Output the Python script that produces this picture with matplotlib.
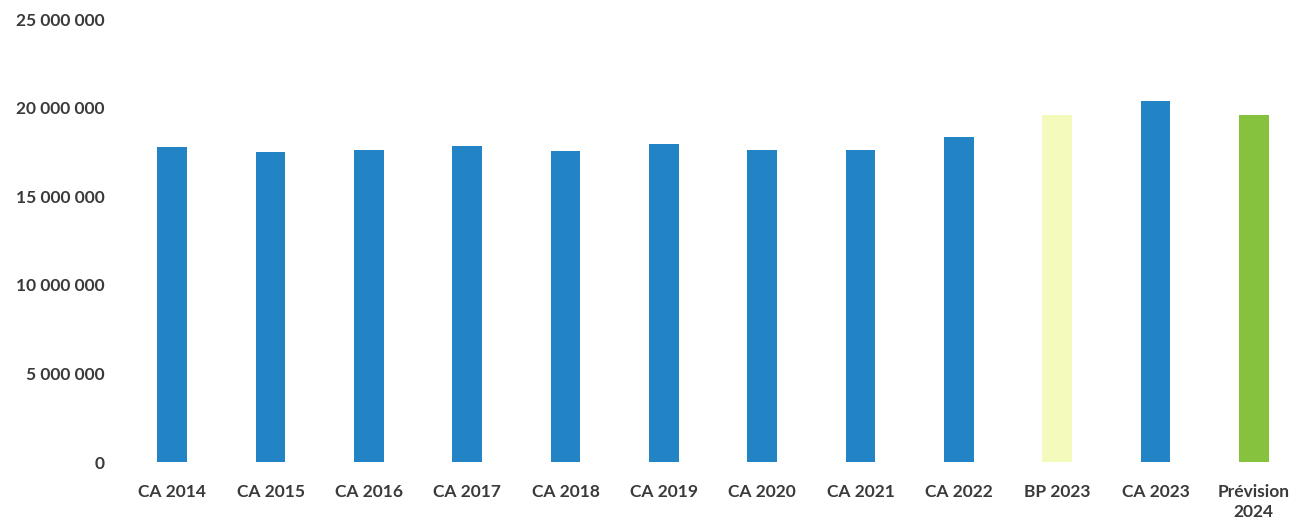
import matplotlib
matplotlib.use("Agg")
import matplotlib.pyplot as plt
from matplotlib.ticker import FuncFormatter

categories = ["CA 2014", "CA 2015", "CA 2016", "CA 2017", "CA 2018", "CA 2019",
              "CA 2020", "CA 2021", "CA 2022", "BP 2023", "CA 2023", "Prévision\n2024"]
values = [17780000, 17480000, 17600000, 17830000, 17570000, 17950000,
          17590000, 17600000, 18320000, 19580000, 20390000, 19580000]
colors = ["#2284c4"] * 9 + ["#f4f9bc", "#2284c4", "#86c23e"]
yticks = [0, 5000000, 10000000, 15000000, 20000000, 25000000]

plt.rcParams["font.family"] = ["Lato", "DejaVu Sans"]

fig = plt.figure(figsize=(13.03, 5.24), dpi=100)
ax = fig.add_axes([0.0944, 0.1183, 0.9056, 0.8454])

x = range(len(categories))
ax.bar(x, values, width=0.3, color=colors)

ax.set_xlim(-0.5, len(categories) - 0.5)
ax.set_ylim(0, 25000000)
ax.set_yticks(yticks)
ax.yaxis.set_major_formatter(FuncFormatter(lambda v, p: f"{int(v):,}".replace(",", " ")))
ax.set_xticks(list(x))
ax.set_xticklabels(categories, linespacing=1.3)

for s in ax.spines.values():
    s.set_visible(False)
ax.tick_params(axis="both", length=0, labelsize=12.5, labelcolor="#3a3a3a")
ax.tick_params(axis="x", pad=16)
ax.tick_params(axis="y", pad=13)
for lbl in ax.get_xticklabels() + ax.get_yticklabels():
    lbl.set_fontweight("bold")

fig.savefig("out.png", dpi=100)
